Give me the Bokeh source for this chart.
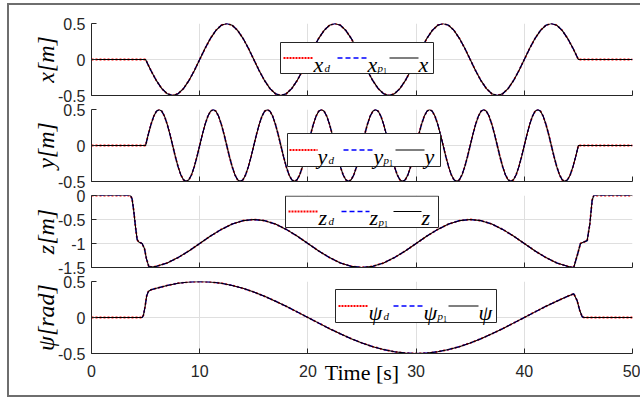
from bokeh.plotting import figure
from bokeh.layouts import column
from bokeh.models import (Range1d, FixedTicker, CustomJSTickFormatter,
                          BoxAnnotation, Arrow, Label)
from bokeh.embed import file_html
from bokeh.resources import INLINE

# ---------------- data ----------------
x_ticks = [0, 10, 20, 30, 40, 50]

t_x = [0,
       5, 5.5, 6, 6.5, 7, 7.5, 8, 8.5, 9, 9.5, 10, 10.5, 11, 11.5, 12, 12.5, 13, 13.5, 14, 14.5,
       15, 15.5, 16, 16.5, 17, 17.5, 18, 18.5, 19, 19.5, 20, 20.5, 21, 21.5, 22, 22.5, 23, 23.5, 24, 24.5,
       25, 25.5, 26, 26.5, 27, 27.5, 28, 28.5, 29, 29.5, 30, 30.5, 31, 31.5, 32, 32.5, 33, 33.5, 34, 34.5,
       35, 35.5, 36, 36.5, 37, 37.5, 38, 38.5, 39, 39.5, 40, 40.5, 41, 41.5, 42, 42.5, 43, 43.5, 44, 44.5,
       45, 50]
x_vals = [0,
          0, -0.155, -0.294, -0.405, -0.476, -0.5, -0.476, -0.405, -0.294, -0.155, 0, 0.155, 0.294, 0.405, 0.476, 0.5, 0.476, 0.405, 0.294, 0.155,
          0, -0.155, -0.294, -0.405, -0.476, -0.5, -0.476, -0.405, -0.294, -0.155, 0, 0.155, 0.294, 0.405, 0.476, 0.5, 0.476, 0.405, 0.294, 0.155,
          0, -0.155, -0.294, -0.405, -0.476, -0.5, -0.476, -0.405, -0.294, -0.155, 0, 0.155, 0.294, 0.405, 0.476, 0.5, 0.476, 0.405, 0.294, 0.155,
          0, -0.155, -0.294, -0.405, -0.476, -0.5, -0.476, -0.405, -0.294, -0.155, 0, 0.155, 0.294, 0.405, 0.476, 0.5, 0.476, 0.405, 0.294, 0.155,
          0, 0]

t_y = [0,
       5, 5.25, 5.5, 5.75, 6, 6.25, 6.5, 6.75, 7, 7.25, 7.5, 7.75, 8, 8.25, 8.5, 8.75, 9, 9.25, 9.5, 9.75,
       10, 10.25, 10.5, 10.75, 11, 11.25, 11.5, 11.75, 12, 12.25, 12.5, 12.75, 13, 13.25, 13.5, 13.75, 14, 14.25, 14.5, 14.75,
       15, 15.25, 15.5, 15.75, 16, 16.25, 16.5, 16.75, 17, 17.25, 17.5, 17.75, 18, 18.25, 18.5, 18.75, 19, 19.25, 19.5, 19.75,
       20, 20.25, 20.5, 20.75, 21, 21.25, 21.5, 21.75, 22, 22.25, 22.5, 22.75, 23, 23.25, 23.5, 23.75, 24, 24.25, 24.5, 24.75,
       25, 25.25, 25.5, 25.75, 26, 26.25, 26.5, 26.75, 27, 27.25, 27.5, 27.75, 28, 28.25, 28.5, 28.75, 29, 29.25, 29.5, 29.75,
       30, 30.25, 30.5, 30.75, 31, 31.25, 31.5, 31.75, 32, 32.25, 32.5, 32.75, 33, 33.25, 33.5, 33.75, 34, 34.25, 34.5, 34.75,
       35, 35.25, 35.5, 35.75, 36, 36.25, 36.5, 36.75, 37, 37.25, 37.5, 37.75, 38, 38.25, 38.5, 38.75, 39, 39.25, 39.5, 39.75,
       40, 40.25, 40.5, 40.75, 41, 41.25, 41.5, 41.75, 42, 42.25, 42.5, 42.75, 43, 43.25, 43.5, 43.75, 44, 44.25, 44.5, 44.75,
       45, 50]
y_vals = [0,
          0, 0.155, 0.294, 0.405, 0.476, 0.5, 0.476, 0.405, 0.294, 0.155, 0, -0.155, -0.294, -0.405, -0.476, -0.5, -0.476, -0.405, -0.294, -0.155,
          0, 0.155, 0.294, 0.405, 0.476, 0.5, 0.476, 0.405, 0.294, 0.155, 0, -0.155, -0.294, -0.405, -0.476, -0.5, -0.476, -0.405, -0.294, -0.155,
          0, 0.155, 0.294, 0.405, 0.476, 0.5, 0.476, 0.405, 0.294, 0.155, 0, -0.155, -0.294, -0.405, -0.476, -0.5, -0.476, -0.405, -0.294, -0.155,
          0, 0.155, 0.294, 0.405, 0.476, 0.5, 0.476, 0.405, 0.294, 0.155, 0, -0.155, -0.294, -0.405, -0.476, -0.5, -0.476, -0.405, -0.294, -0.155,
          0, 0.155, 0.294, 0.405, 0.476, 0.5, 0.476, 0.405, 0.294, 0.155, 0, -0.155, -0.294, -0.405, -0.476, -0.5, -0.476, -0.405, -0.294, -0.155,
          0, 0.155, 0.294, 0.405, 0.476, 0.5, 0.476, 0.405, 0.294, 0.155, 0, -0.155, -0.294, -0.405, -0.476, -0.5, -0.476, -0.405, -0.294, -0.155,
          0, 0.155, 0.294, 0.405, 0.476, 0.5, 0.476, 0.405, 0.294, 0.155, 0, -0.155, -0.294, -0.405, -0.476, -0.5, -0.476, -0.405, -0.294, -0.155,
          0, 0.155, 0.294, 0.405, 0.476, 0.5, 0.476, 0.405, 0.294, 0.155, 0, -0.155, -0.294, -0.405, -0.476, -0.5, -0.476, -0.405, -0.294, -0.155,
          0, 0]

t_z = [0, 3.6, 3.75, 3.9, 4.07, 4.22, 4.37, 4.68, 4.9, 5.08, 5.3, 5.61,
       6, 7, 8, 9, 10, 11, 12, 13, 14, 15, 16, 17, 18, 19, 20, 21, 22, 23, 24, 25,
       26, 27, 28, 29, 30, 31, 32, 33, 34, 35, 36, 37, 38, 39, 40, 41, 42, 43, 44,
       44.3, 44.57, 44.94, 45.19, 45.5, 45.81, 46.06, 46.27, 46.42, 50]
z_vals = [0, 0, -0.07, -0.31, -0.66, -0.92, -0.97, -1.0, -1.11, -1.32, -1.48, -1.49,
          -1.476, -1.405, -1.294, -1.155, -1.0, -0.845, -0.706, -0.595, -0.524, -0.5,
          -0.524, -0.595, -0.706, -0.845, -1.0, -1.155, -1.294, -1.405, -1.476, -1.5,
          -1.476, -1.405, -1.294, -1.155, -1.0, -0.845, -0.706, -0.595, -0.524, -0.5,
          -0.524, -0.595, -0.706, -0.845, -1.0, -1.155, -1.294, -1.405, -1.476,
          -1.49, -1.5, -1.21, -1.0, -0.97, -0.94, -0.59, -0.1, 0, 0]

t_psi = [0, 4.68, 4.8, 4.95, 5.1, 5.25, 5.5,
         6, 7, 8, 9, 10, 11, 12, 13, 14, 15, 16, 17, 18, 19, 20, 21, 22, 23, 24, 25,
         26, 27, 28, 29, 30, 31, 32, 33, 34, 35, 36, 37, 38, 39, 40, 41, 42, 43, 44,
         44.3, 44.57, 44.88, 45.12, 45.35, 45.5, 50]
psi_vals = [0, 0, 0.03, 0.15, 0.3, 0.36, 0.385,
            0.405, 0.445, 0.476, 0.494, 0.5, 0.494, 0.476, 0.445, 0.405, 0.354,
            0.294, 0.227, 0.155, 0.078, 0, -0.078, -0.155, -0.227, -0.294, -0.354,
            -0.405, -0.445, -0.476, -0.494, -0.5, -0.494, -0.476, -0.445, -0.405, -0.354,
            -0.294, -0.227, -0.155, -0.078, 0, 0.078, 0.155, 0.227, 0.294,
            0.313, 0.33, 0.236, 0.1, 0.01, 0, 0]

# ---------------- layout (page pixels) ----------------
FRAME_LEFT = 91
FRAME_W = 541
FRAME_H = 72
TOPS = [23, 109, 195, 281]
X_RANGE = (0, 50)
OVERLAP = 10  # canvases of neighbouring panels overlap (transparent borders)

AX = "#262626"
GRID = "#dfdfdf"
SERIF = "Liberation Serif"
SANS = "Liberation Sans"

panels = [
    dict(t=t_x, v=x_vals, yr=(-0.5, 0.5), yt=[-0.5, 0, 0.5], sym="x", ylabel="x[m]", lw=10,
         box=(280, 42, 433, 73), ky=57.5,
         ent=[(283, 313, 313), (337, 367, 367), (389, 418, 418)], mt=18, mb=12),
    dict(t=t_y, v=y_vals, yr=(-0.5, 0.5), yt=[-0.5, 0, 0.5], sym="y", ylabel="y[m]", lw=10,
         box=(287, 133, 440, 166), ky=149.5,
         ent=[(289, 317, 317), (343, 373, 373), (395, 424, 424)], mt=12, mb=12),
    dict(t=t_z, v=z_vals, yr=(-1.5, 0), yt=[-1.5, -1, -0.5, 0], sym="z", ylabel="z[m]", lw=9,
         box=(285, 195.6, 438, 227), ky=211,
         ent=[(288, 318, 318), (341, 369, 369), (393, 421, 421)], mt=12, mb=12),
    dict(t=t_psi, v=psi_vals, yr=(-0.5, 0.5), yt=[-0.5, 0, 0.5], sym="ψ", ylabel="ψ[rad]", lw=14,
         box=(335, 289, 496, 322), ky=305.5,
         ent=[(338, 368, 368), (393, 423, 423), (448, 478, 478)], mt=12, mb=42),
]

x_range = Range1d(*X_RANGE)
fmt = CustomJSTickFormatter(code="return tick.toString();")

figs = []
for k, pn in enumerate(panels):
    lo, hi = pn["yr"]
    top = TOPS[k]

    def dx(px):
        return X_RANGE[0] + (px - FRAME_LEFT) / FRAME_W * (X_RANGE[1] - X_RANGE[0])

    def dy(py, top=top, lo=lo, hi=hi):
        return hi - (py - top) / FRAME_H * (hi - lo)

    extra = {} if k == 0 else {"styles": {"margin-top": f"-{OVERLAP}px"}}
    p = figure(x_range=x_range, y_range=Range1d(lo, hi),
               frame_width=FRAME_W, frame_height=FRAME_H,
               min_border_left=82, min_border_right=8,
               min_border_top=pn["mt"], min_border_bottom=pn["mb"],
               toolbar_location=None, output_backend="svg", title=None, **extra)
    p.outline_line_color = None
    p.background_fill_color = "white"
    p.border_fill_color = None

    if k < 3:
        # bottom axis line with inward ticks only (no labels on the upper panels)
        p.xaxis.ticker = FixedTicker(ticks=[], minor_ticks=x_ticks)
    else:
        p.xaxis.ticker = FixedTicker(ticks=x_ticks, minor_ticks=[])
    p.yaxis.ticker = FixedTicker(ticks=pn["yt"], minor_ticks=[])
    p.yaxis.formatter = fmt
    p.xaxis.formatter = fmt
    for ax in (p.xaxis, p.yaxis):
        ax.axis_line_color = AX
        ax.axis_line_width = 1
        ax.major_tick_line_color = AX
        ax.minor_tick_line_color = AX
        ax.major_tick_in = 5
        ax.major_tick_out = 0
        ax.minor_tick_in = 5
        ax.minor_tick_out = 0
        ax.major_label_text_font = SANS
        ax.major_label_text_font_size = "16px"
        ax.major_label_text_color = AX
    p.yaxis.major_label_standoff = 6
    p.yaxis.axis_label = pn["ylabel"]
    p.yaxis.axis_label_text_font = SERIF
    p.yaxis.axis_label_text_font_style = "italic"
    p.yaxis.axis_label_text_font_size = "24px"
    p.yaxis.axis_label_text_color = "black"
    p.yaxis.axis_label_standoff = -4
    if k == 3:
        p.xaxis.major_label_standoff = 11
        p.xaxis.axis_label = "Time [s]"
        p.xaxis.axis_label_text_font = SERIF
        p.xaxis.axis_label_text_font_style = "normal"
        p.xaxis.axis_label_text_font_size = "22px"
        p.xaxis.axis_label_text_color = "black"
        p.xaxis.axis_label_standoff = -20

    p.xgrid.ticker = FixedTicker(ticks=x_ticks)
    p.ygrid.ticker = FixedTicker(ticks=pn["yt"])
    p.grid.grid_line_color = GRID
    p.grid.grid_line_width = 1

    # desired (red dotted), predicted p1 (blue dashed), actual (black solid)
    p.line(pn["t"], pn["v"], line_color="red", line_dash="2 2", line_width=1.8)
    p.line(pn["t"], pn["v"], line_color="blue", line_dash="5 3", line_width=1.2)
    p.line(pn["t"], pn["v"], line_color="black", line_width=1.1)

    # legend box
    bl, bt, br, bb = pn["box"]
    p.add_layout(BoxAnnotation(left=dx(bl), right=dx(br), top=dy(bt), bottom=dy(bb),
                               fill_color="white", fill_alpha=1.0,
                               line_color=AX, line_width=1, line_alpha=1.0))
    styles = [dict(line_color="red", line_dash="2 1", line_width=2),
              dict(line_color="blue", line_dash="5 3", line_width=1.5),
              dict(line_color="black", line_dash="solid", line_width=1.2)]
    ky = pn["ky"]
    for j, (ks, ke, lx) in enumerate(pn["ent"]):
        p.add_layout(Arrow(end=None, x_start=dx(ks), x_end=dx(ke), y_start=dy(ky), y_end=dy(ky),
                           **styles[j]))
        p.add_layout(Label(x=dx(lx), y=dy(ky + 6), text=pn["sym"], text_font=SERIF,
                           text_font_style="italic", text_font_size="22px",
                           text_align="left", text_baseline="alphabetic", text_color="black"))
        sx = lx + pn["lw"]
        if j == 0:
            p.add_layout(Label(x=dx(sx + 1), y=dy(ky + 9.5), text="d", text_font=SERIF,
                               text_font_style="italic", text_font_size="11px",
                               text_align="left", text_baseline="alphabetic", text_color="black"))
        elif j == 1:
            p.add_layout(Label(x=dx(sx), y=dy(ky + 10), text="p", text_font=SERIF,
                               text_font_style="italic", text_font_size="11px",
                               text_align="left", text_baseline="alphabetic", text_color="black"))
            p.add_layout(Label(x=dx(sx + 5.5), y=dy(ky + 12.5), text="1", text_font=SERIF,
                               text_font_style="normal", text_font_size="8px",
                               text_align="left", text_baseline="alphabetic", text_color="black"))
    figs.append(p)

BORDER = "2px solid #6e6e6e"
layout = column(*figs, spacing=0,
                styles={"margin-left": "7px", "margin-top": "3px", "background-color": "white",
                        "border-top": BORDER, "border-left": BORDER, "border-bottom": BORDER})

open("out.html", "w").write(file_html(layout, INLINE))
